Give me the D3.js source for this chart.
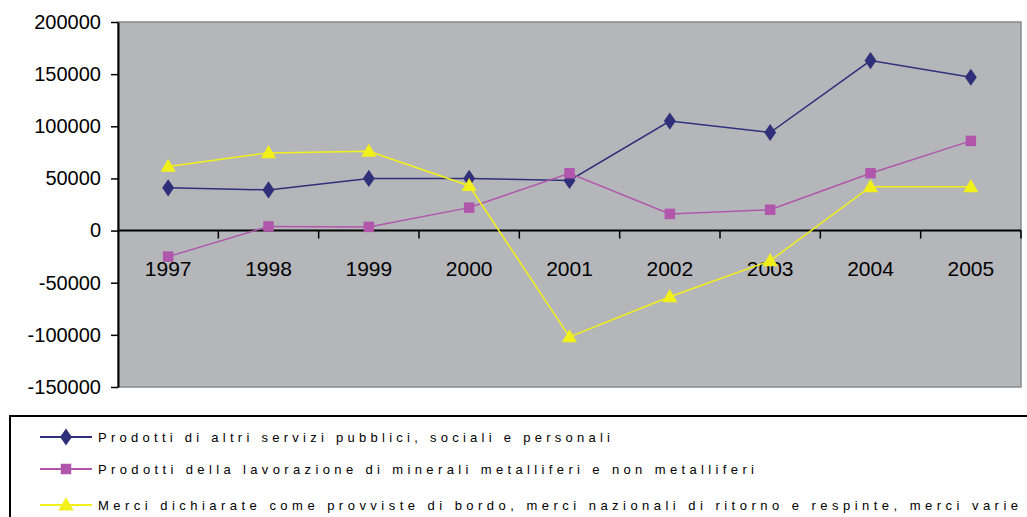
<!DOCTYPE html>
<html>
<head>
<meta charset="utf-8">
<script src="https://cdn.jsdelivr.net/npm/d3@7"></script>
<style>
  body { margin: 0; background: #fff; }
  svg { display: block; font-family: Arial, "Liberation Sans", sans-serif; }
</style>
</head>
<body>
<div id="chart"></div>
<script>
// categories and values
var years = ["1997", "1998", "1999", "2000", "2001", "2002", "2003", "2004", "2005"];
var servizi = [41000, 39000, 50000, 50000, 48000, 105000, 94000, 163000, 147000];
var minerali = [-25000, 4000, 3500, 22000, 55000, 16000, 20000, 55000, 86000];
var merci = [61500, 74500, 76000, 43000, -102000, -63500, -29000, 42000, 42000];
var yTicks = [-150000, -100000, -50000, 0, 50000, 100000, 150000, 200000];
var seriesNames = [
  "Prodotti di altri servizi pubblici, sociali e personali",
  "Prodotti della lavorazione di minerali metalliferi e non metalliferi",
  "Merci dichiarate come provviste di bordo, merci nazionali di ritorno e respinte, merci varie"
];

var W = 1027, H = 517;
var plot = { left: 118, top: 22, right: 1021, bottom: 387 };

var svg = d3.select("#chart").append("svg")
  .attr("width", W)
  .attr("height", H);

var x = d3.scaleBand()
  .domain(years)
  .range([plot.left, plot.right])
  .padding(0);

var y = d3.scaleLinear()
  .domain([-150000, 200000])
  .range([plot.bottom, plot.top]);

// plot background
svg.append("rect")
  .attr("x", plot.left)
  .attr("y", plot.top)
  .attr("width", plot.right - plot.left)
  .attr("height", plot.bottom - plot.top)
  .style("fill", "#b5b6ba")
  .style("stroke", "#8a8a8a")
  .style("stroke-width", "1.5px");

// y axis (plain hyphen for negatives, like the original)
var yAxis = svg.append("g")
  .attr("transform", "translate(" + plot.left + ",0)")
  .call(d3.axisLeft(y).tickValues(yTicks).tickSize(7).tickSizeOuter(0)
    .tickFormat(function(d) { return String(d); }));
yAxis.select(".domain").style("stroke", "#000").style("stroke-width", "2px");
yAxis.selectAll(".tick line").style("stroke", "#000").style("stroke-width", "1.5px");
yAxis.selectAll(".tick text")
  .attr("x", -17)
  .style("font-size", "20px")
  .style("fill", "#000");

// x axis sits on the zero line, ticks between categories
var zeroY = y(0);
svg.append("line")
  .attr("x1", plot.left).attr("x2", plot.right)
  .attr("y1", zeroY).attr("y2", zeroY)
  .style("stroke", "#000")
  .style("stroke-width", "2px");

var boundaries = years.slice(1).map(function(d) { return x(d); }).concat([plot.right]);
svg.selectAll(".xtick")
  .data(boundaries)
  .enter().append("line")
  .attr("class", "xtick")
  .attr("x1", function(d) { return d; })
  .attr("x2", function(d) { return d; })
  .attr("y1", zeroY)
  .attr("y2", zeroY + 8)
  .style("stroke", "#000")
  .style("stroke-width", "1.5px");

svg.selectAll(".xlabel")
  .data(years)
  .enter().append("text")
  .attr("class", "xlabel")
  .attr("x", function(d) { return x(d) + x.bandwidth() / 2; })
  .attr("y", zeroY + 45)
  .attr("text-anchor", "middle")
  .style("font-size", "21px")
  .style("fill", "#000")
  .text(function(d) { return d; });

// series
var series = [
  { name: seriesNames[0], values: servizi, color: "#30307a", symbol: d3.symbolDiamond, size: 85 },
  { name: seriesNames[1], values: minerali, color: "#b057ac", symbol: d3.symbolSquare, size: 110 },
  { name: seriesNames[2], values: merci, color: "#f2f01a", symbol: d3.symbolTriangle, size: 100 }
];

var line = d3.line()
  .x(function(d, i) { return x(years[i]) + x.bandwidth() / 2; })
  .y(function(d) { return y(d); });

function markerTransform(s, px, py) {
  var t = "translate(" + px + "," + py + ")";
  if (s.symbol === d3.symbolDiamond) t += ",scale(1.2,1)";
  if (s.symbol === d3.symbolTriangle) t += ",translate(0,1)";
  return t;
}

series.forEach(function(s) {
  var g = svg.append("g");
  g.append("path")
    .attr("d", line(s.values))
    .style("fill", "none")
    .style("stroke", s.color)
    .style("stroke-width", "1.5px");
  g.selectAll("path.marker")
    .data(s.values)
    .enter().append("path")
    .attr("class", "marker")
    .attr("d", d3.symbol().type(s.symbol).size(s.size))
    .attr("transform", function(d, i) {
      return markerTransform(s, x(years[i]) + x.bandwidth() / 2, y(d));
    })
    .style("fill", s.color);
});

// legend
var legend = svg.append("g");
legend.append("rect")
  .attr("x", 10)
  .attr("y", 416)
  .attr("width", 1030)
  .attr("height", 120)
  .style("fill", "#fff")
  .style("stroke", "#000")
  .style("stroke-width", "2px");

var legendY = [437, 469, 505];
var legendRight = [610, 754, 1018];

series.forEach(function(s, i) {
  var ly = legendY[i];
  legend.append("line")
    .attr("x1", 40).attr("x2", 92)
    .attr("y1", ly).attr("y2", ly)
    .style("stroke", s.color)
    .style("stroke-width", "2px");
  legend.append("path")
    .attr("d", d3.symbol().type(s.symbol).size(s.size))
    .attr("transform", markerTransform(s, 66, ly))
    .style("fill", s.color);
  legend.append("text")
    .attr("x", 98)
    .attr("y", ly + 5)
    .attr("textLength", legendRight[i] - 98)
    .attr("lengthAdjust", "spacing")
    .style("font-size", "13px")
    .style("fill", "#000")
    .text(s.name);
});
</script>
</body>
</html>
